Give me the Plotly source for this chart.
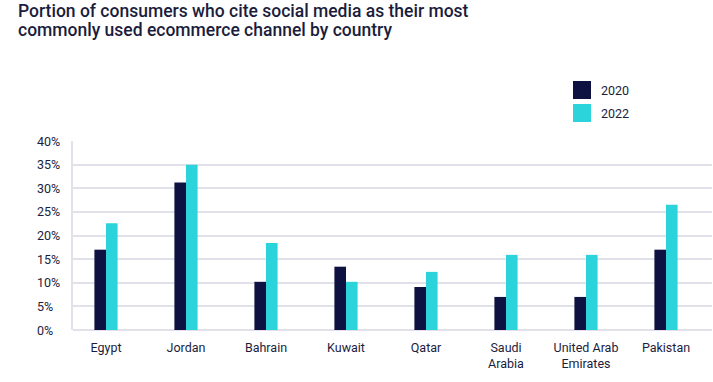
import plotly.graph_objects as go

countries = ["Egypt", "Jordan", "Bahrain", "Kuwait", "Qatar", "Saudi<br>Arabia", "United Arab<br>Emirates", "Pakistan"]
values_2020 = [17.0, 31.2, 10.2, 13.4, 9.1, 7.0, 7.0, 17.0]
values_2022 = [22.6, 35.0, 18.4, 10.2, 12.3, 15.9, 15.9, 26.5]
y_ticks = [0, 5, 10, 15, 20, 25, 30, 35, 40]
series_names = ["2020", "2022"]
title_lines = ["Portion of consumers who cite social media as their most",
               "commonly used ecommerce channel by country"]

DARK = "#0e1240"
CYAN = "#2bd4db"
TEXT = "#1b1d3d"
GRID = "#e2e1ea"
COLORS = [DARK, CYAN]

W, H = 713, 382
ML, MR, MT, MB = 73, 1, 141, 52
PW = W - ML - MR
PH = H - MT - MB


def px_x(px):
    return (px - ML) / PW


def px_y(py):
    return (H - MB - py) / PH


fig = go.Figure()
for name, vals, col in zip(series_names, [values_2020, values_2022], COLORS):
    fig.add_trace(go.Bar(x=countries, y=vals, name=name, marker_color=col,
                         marker_line_width=0, showlegend=False))

annotations = []
# title: one text block, glyphs at 17.5px with ~19px leading
title_html = "<br>".join(f'<span style="font-size:17.5px">{t}</span>' for t in title_lines)
annotations.append(dict(
    text=title_html, x=px_x(16), y=px_y(-1), xref="paper", yref="paper",
    xanchor="left", yanchor="top", align="left", showarrow=False,
    font=dict(family="Roboto", size=14.6, color=TEXT, weight=500),
))
# y tick labels (left aligned)
for v in y_ticks:
    annotations.append(dict(
        text=f"{v}%", x=px_x(35), y=v, xref="paper", yref="y",
        xanchor="left", yanchor="middle", showarrow=False,
        font=dict(family="Roboto", size=12.5, color=TEXT),
    ))
# legend
shapes = []
for i, (name, col) in enumerate(zip(series_names, COLORS)):
    top = 81 + i * 23
    shapes.append(dict(type="rect", xref="paper", yref="paper",
                       x0=px_x(573), x1=px_x(591), y0=px_y(top + 18), y1=px_y(top),
                       fillcolor=col, line=dict(width=0)))
    annotations.append(dict(
        text=name, x=px_x(599), y=px_y(top + 9), xref="paper", yref="paper",
        xanchor="left", yanchor="middle", showarrow=False,
        font=dict(family="Roboto", size=12.5, color=TEXT),
    ))

fig.update_layout(
    width=W, height=H,
    margin=dict(l=ML, r=MR, t=MT, b=MB, autoexpand=False),
    paper_bgcolor="white", plot_bgcolor="white",
    barmode="group", bargap=0.71, bargroupgap=0,
    font=dict(family="Roboto", size=12, color=TEXT),
    showlegend=False,
    annotations=annotations,
    shapes=shapes,
    xaxis=dict(
        range=[-0.4125, 7.575],
        showgrid=False, showline=False, zeroline=False,
        tickfont=dict(family="Roboto", size=12.5, color=TEXT),
        ticklabelstandoff=8,
    ),
    yaxis=dict(
        range=[0, 40],
        tickvals=y_ticks, showticklabels=False,
        showgrid=True, gridcolor=GRID, gridwidth=1.5,
        zeroline=True, zerolinecolor=GRID, zerolinewidth=2,
        showline=True, linecolor=GRID, linewidth=1.5,
    ),
)

fig.write_html("out.html", config={"displayModeBar": False},
               post_script="document.body.style.margin='0';")
